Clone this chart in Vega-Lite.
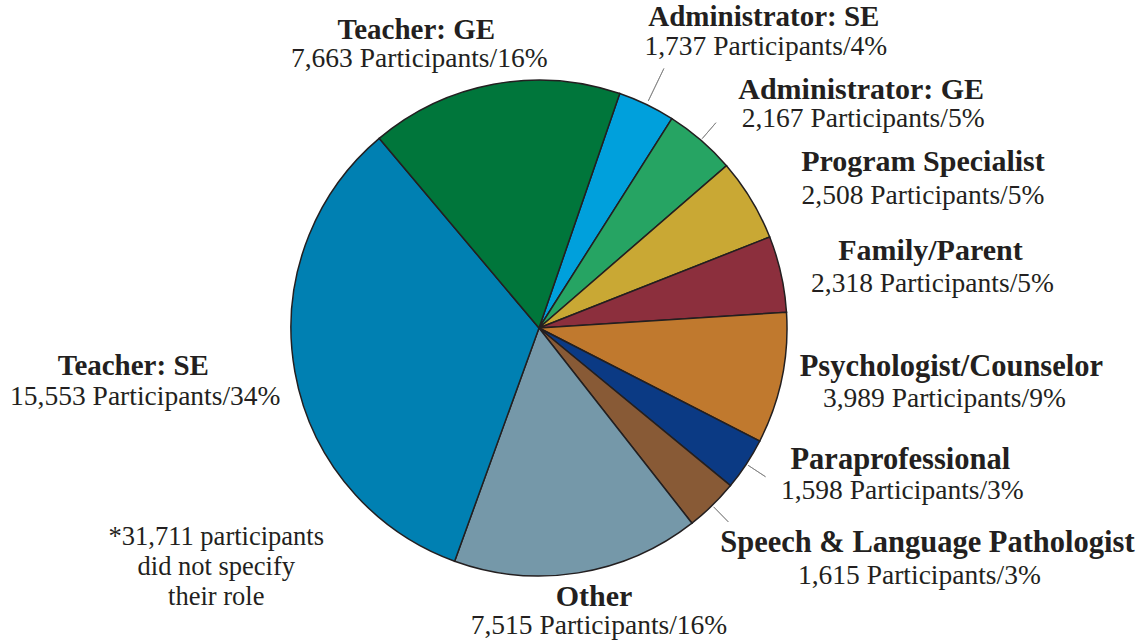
{
  "$schema": "https://vega.github.io/schema/vega-lite/v6.json",
  "width": 1078,
  "height": 628,
  "autosize": {"type": "none"},
  "padding": {"left": 0, "top": 14, "right": 58, "bottom": 0},
  "background": "white",
  "config": {"view": {"stroke": null}, "text": {"font": "Liberation Serif", "fill": "#231f20", "align": "center", "baseline": "alphabetic"}},
  "data": {"values": [
    {"rank": 1, "role": "Administrator: SE", "participants": 1737, "detail": "1,737 Participants/4%"},
    {"rank": 2, "role": "Administrator: GE", "participants": 2167, "detail": "2,167 Participants/5%"},
    {"rank": 3, "role": "Program Specialist", "participants": 2508, "detail": "2,508 Participants/5%"},
    {"rank": 4, "role": "Family/Parent", "participants": 2318, "detail": "2,318 Participants/5%"},
    {"rank": 5, "role": "Psychologist/Counselor", "participants": 3989, "detail": "3,989 Participants/9%"},
    {"rank": 6, "role": "Paraprofessional", "participants": 1598, "detail": "1,598 Participants/3%"},
    {"rank": 7, "role": "Speech & Language Pathologist", "participants": 1615, "detail": "1,615 Participants/3%"},
    {"rank": 8, "role": "Other", "participants": 7515, "detail": "7,515 Participants/16%"},
    {"rank": 9, "role": "Teacher: SE", "participants": 15553, "detail": "15,553 Participants/34%"},
    {"rank": 10, "role": "Teacher: GE", "participants": 7663, "detail": "7,663 Participants/16%"}
  ]},
  "encoding": {
    "theta": {"field": "participants", "type": "quantitative", "stack": true, "scale": {"range": [0.3316, 6.6148]}},
    "order": {"field": "rank", "type": "quantitative"}
  },
  "layer": [
    {
      "mark": {"type": "arc", "outerRadius": 248, "stroke": "#231f20", "strokeWidth": 1.5},
      "encoding": {
        "color": {"field": "role", "type": "nominal", "legend": null, "scale": {
          "domain": ["Administrator: SE", "Administrator: GE", "Program Specialist", "Family/Parent", "Psychologist/Counselor", "Paraprofessional", "Speech & Language Pathologist", "Other", "Teacher: SE", "Teacher: GE"],
          "range": ["#00a0dc", "#26a463", "#c9a834", "#8c2f3d", "#c0792e", "#0b3a84", "#885a36", "#7598a9", "#0080b2", "#00763b"]}}
      }
    },
    {
      "mark": {"type": "arc", "innerRadius": 252, "outerRadius": 288, "padAngle": 0.4, "filled": false, "stroke": "#808080", "strokeWidth": 0.8},
      "encoding": {"strokeOpacity": {"condition": {"test": "datum.role === 'Administrator: SE'", "value": 1}, "value": 0}}
    },
    {
      "mark": {"type": "arc", "innerRadius": 250, "outerRadius": 271, "padAngle": 0.4, "filled": false, "stroke": "#808080", "strokeWidth": 0.8},
      "encoding": {"strokeOpacity": {"condition": {"test": "indexof(['Administrator: GE', 'Paraprofessional', 'Speech & Language Pathologist'], datum.role) >= 0", "value": 1}, "value": 0}}
    },
    {"mark": {"type": "text", "radius": 293, "dx": -69, "dy": -1, "fontSize": 29, "fontWeight": "bold"},
     "encoding": {"text": {"condition": {"test": "datum.role === 'Teacher: GE'", "field": "role"}, "value": ""}}},
    {"mark": {"type": "text", "radius": 293, "dx": -66, "dy": 27, "fontSize": 27.5},
     "encoding": {"text": {"condition": {"test": "datum.role === 'Teacher: GE'", "field": "detail"}, "value": ""}}},
    {"mark": {"type": "text", "radius": 357, "dx": 70, "dy": 20, "fontSize": 29, "fontWeight": "bold"},
     "encoding": {"text": {"condition": {"test": "datum.role === 'Administrator: SE'", "field": "role"}, "value": ""}}},
    {"mark": {"type": "text", "radius": 357, "dx": 72, "dy": 49, "fontSize": 27.5},
     "encoding": {"text": {"condition": {"test": "datum.role === 'Administrator: SE'", "field": "detail"}, "value": ""}}},
    {"mark": {"type": "text", "radius": 374, "dx": 78, "dy": 54, "fontSize": 30, "fontWeight": "bold"},
     "encoding": {"text": {"condition": {"test": "datum.role === 'Administrator: GE'", "field": "role"}, "value": ""}}},
    {"mark": {"type": "text", "radius": 374, "dx": 80, "dy": 82, "fontSize": 27.5},
     "encoding": {"text": {"condition": {"test": "datum.role === 'Administrator: GE'", "field": "detail"}, "value": ""}}},
    {"mark": {"type": "text", "radius": 401, "dx": 41, "dy": 51, "fontSize": 30, "fontWeight": "bold"},
     "encoding": {"text": {"condition": {"test": "datum.role === 'Program Specialist'", "field": "role"}, "value": ""}}},
    {"mark": {"type": "text", "radius": 401, "dx": 41, "dy": 84, "fontSize": 27.5},
     "encoding": {"text": {"condition": {"test": "datum.role === 'Program Specialist'", "field": "detail"}, "value": ""}}},
    {"mark": {"type": "text", "radius": 395, "dx": 6, "dy": 18, "fontSize": 30, "fontWeight": "bold"},
     "encoding": {"text": {"condition": {"test": "datum.role === 'Family/Parent'", "field": "role"}, "value": ""}}},
    {"mark": {"type": "text", "radius": 395, "dx": 8, "dy": 50, "fontSize": 27.5},
     "encoding": {"text": {"condition": {"test": "datum.role === 'Family/Parent'", "field": "detail"}, "value": ""}}},
    {"mark": {"type": "text", "radius": 413, "dx": 8, "dy": -36, "fontSize": 30.5, "fontWeight": "bold"},
     "encoding": {"text": {"condition": {"test": "datum.role === 'Psychologist/Counselor'", "field": "role"}, "value": ""}}},
    {"mark": {"type": "text", "radius": 413, "dx": 1, "dy": -5, "fontSize": 27.5},
     "encoding": {"text": {"condition": {"test": "datum.role === 'Psychologist/Counselor'", "field": "detail"}, "value": ""}}},
    {"mark": {"type": "text", "radius": 388, "dx": 37, "dy": -72, "fontSize": 30.5, "fontWeight": "bold"},
     "encoding": {"text": {"condition": {"test": "datum.role === 'Paraprofessional'", "field": "role"}, "value": ""}}},
    {"mark": {"type": "text", "radius": 388, "dx": 39, "dy": -42, "fontSize": 27.5},
     "encoding": {"text": {"condition": {"test": "datum.role === 'Paraprofessional'", "field": "detail"}, "value": ""}}},
    {"mark": {"type": "text", "radius": 440, "dx": 81, "dy": -91, "fontSize": 30.5, "fontWeight": "bold"},
     "encoding": {"text": {"condition": {"test": "datum.role === 'Speech & Language Pathologist'", "field": "role"}, "value": ""}}},
    {"mark": {"type": "text", "radius": 440, "dx": 73, "dy": -59, "fontSize": 27.5},
     "encoding": {"text": {"condition": {"test": "datum.role === 'Speech & Language Pathologist'", "field": "detail"}, "value": ""}}},
    {"mark": {"type": "text", "radius": 297, "dx": 8, "dy": -15, "fontSize": 30, "fontWeight": "bold"},
     "encoding": {"text": {"condition": {"test": "datum.role === 'Other'", "field": "role"}, "value": ""}}},
    {"mark": {"type": "text", "radius": 297, "dx": 13, "dy": 13, "fontSize": 27.5},
     "encoding": {"text": {"condition": {"test": "datum.role === 'Other'", "field": "detail"}, "value": ""}}},
    {"mark": {"type": "text", "radius": 405, "dx": -7, "dy": -24, "fontSize": 29, "fontWeight": "bold"},
     "encoding": {"text": {"condition": {"test": "datum.role === 'Teacher: SE'", "field": "role"}, "value": ""}}},
    {"mark": {"type": "text", "radius": 405, "dx": 5, "dy": 6, "fontSize": 27.5},
     "encoding": {"text": {"condition": {"test": "datum.role === 'Teacher: SE'", "field": "detail"}, "value": ""}}},
    {"mark": {"type": "text", "radius": 405, "dx": 76, "dy": 146, "fontSize": 26.5, "lineHeight": 30},
     "encoding": {"text": {"condition": {"test": "datum.role === 'Teacher: SE'", "value": ["*31,711 participants", "did not specify", "their role"]}, "value": ""}}}
  ]
}
